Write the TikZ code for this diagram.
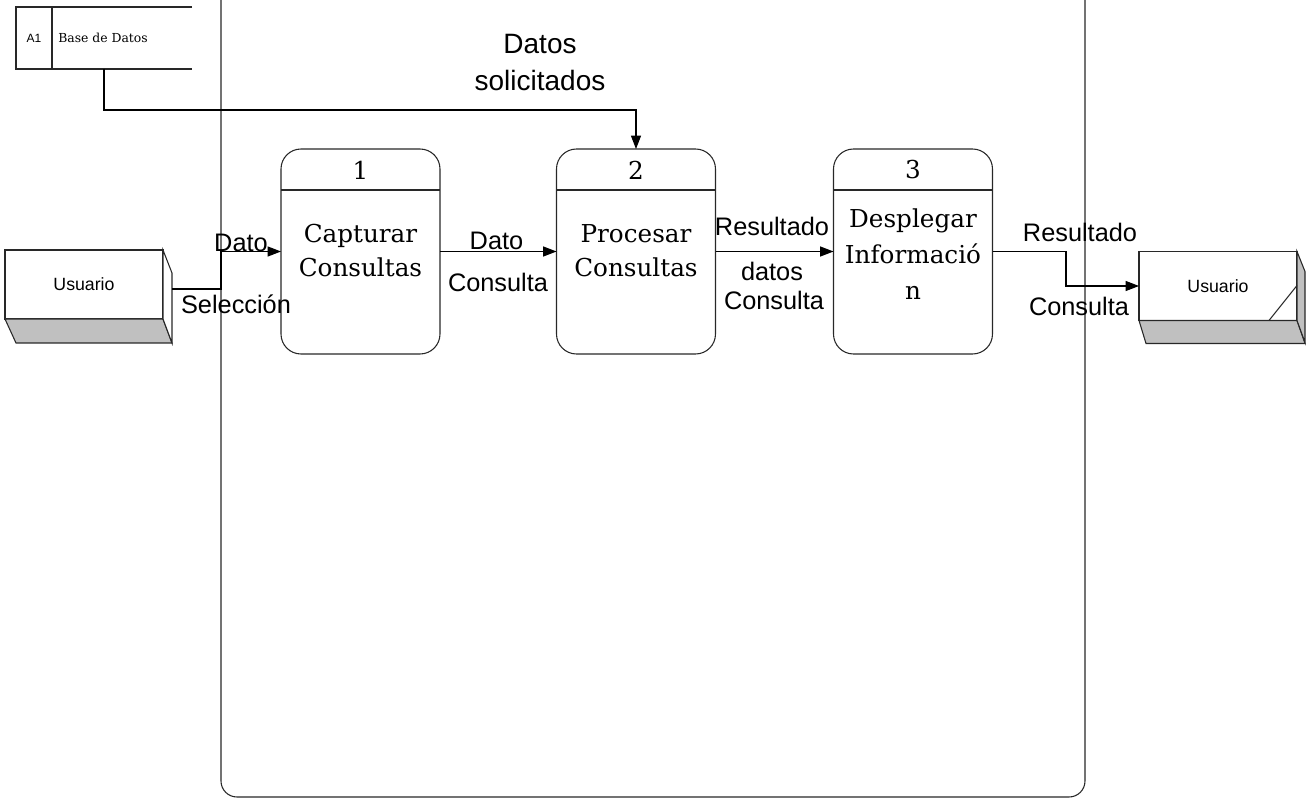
\documentclass[tikz,border=0pt]{standalone}
\usepackage{fontspec}
\setmainfont{DejaVu Serif}
\setsansfont{Liberation Sans}
\usepackage{xcolor}
\usepackage{tikz}
\usetikzlibrary{arrows.meta,calc}

\definecolor{shade}{RGB}{192,192,192}
\definecolor{edge}{RGB}{40,40,40}

\tikzset{
	proc/.style={draw=edge,line width=0.8pt,rounded corners=15pt,minimum width=119.25pt,minimum height=153.75pt,inner sep=0pt,outer sep=0pt},
	proctext/.style={align=center,font=\fontsize{18.5}{25.5}\selectfont,inner sep=0pt},
	entity/.style={draw=edge,line width=0.8pt,fill=white,minimum width=118.5pt,minimum height=51.75pt,inner sep=0pt,outer sep=0pt,font=\sffamily\fontsize{13.3}{16}\selectfont},
	flow/.style={draw=black,line width=0.8pt,-{Triangle[length=10pt,width=7.5pt]}},
	lbl/.style={font=\sffamily\fontsize{19}{23}\selectfont,inner sep=0pt}
}

\begin{document}
\begin{tikzpicture}[x=0.75pt,y=0.75pt,yscale=-1,xscale=1]
	\useasboundingbox (0,0) rectangle (1311,798);

	%Shape: Frame
	\draw [edge,line width=0.8pt,rounded corners=12pt] (221,-20) -- (221,797) -- (1085,797) -- (1085,-20) ;

	%Shape: Data store
	\node [inner sep=0pt,outer sep=0pt,minimum width=132pt,minimum height=46.5pt] (db) at (104,38) {};
	\draw [edge,line width=0.8pt] (db.north east) -- (db.north west) -- (db.south west) -- (db.south east) ;
	\draw [edge,line width=0.8pt] ($(db.north west)+(36,0)$) -- ($(db.south west)+(36,0)$) ;
	% Text Node
	\node [font=\sffamily\fontsize{9}{11}\selectfont,inner sep=0pt] (dbid) at (34,38) {A1};
	% Text Node
	\node [anchor=west,font=\fontsize{9.3}{11}\selectfont,inner sep=0pt] (dbname) at (58,38) {Base de Datos};

	%Shape: Processes
	\node [proc] (p1) at (360.5,251.5) {};
	\node [proc] (p2) at (636,251.5) {};
	\node [proc] (p3) at (913,251.5) {};
	\foreach \p in {p1,p2,p3}
		\draw [edge,line width=0.8pt] ($(\p.north west)!0.2!(\p.south west)$) -- ($(\p.north east)!0.2!(\p.south east)$) ;
	% Text Node
	\node [proctext] (n1) at (360.5,170) {1};
	\node [proctext] (n2) at (636,170) {2};
	\node [proctext] (n3) at (913,170) {3};
	\node [proctext] (t1) at (360.5,251) {Capturar\\Consultas};
	\node [proctext] (t2) at (636,251) {Procesar\\Consultas};
	\node [proctext,font=\fontsize{18.5}{27}\selectfont] (t3) at (913,254) {Desplegar\\Informació\\n};

	%Shape: External entity (left)
	\node [entity] (u1) at (84,284.5) {Usuario};
	\draw [edge,line width=0.8pt,fill=shade] (u1.south west) -- ++(11,24) -- ($(u1.south east)+(9,24)$) -- (u1.south east) -- cycle ;
	\draw [edge,line width=0.8pt,fill=white] (u1.north east) -- ++(9,23) -- ++(0,70) -- (u1.south east) -- cycle ;

	%Shape: External entity (right)
	\node [entity] (u2) at (1218,286) {Usuario};
	\draw [edge,line width=0.8pt,fill=shade] (u2.south west) -- ++(7,23) -- ($(u2.south east)+(8,23)$) -- (u2.south east) -- cycle ;
	\draw [edge,line width=0.8pt,fill=shade] (u2.north east) -- ++(8,20) -- ++(0,71) -- (u2.south east) -- cycle ;
	\draw [edge,line width=0.8pt] ($(u2.south east)+(-28,0)$) -- ($(u2.north east)+(0,34)$) ;

	%Straight Lines: flows
	\coordinate (dbturn) at (636,110);
	\draw [flow] (db.south) |- (dbturn) -- (p2.north) ;
	\coordinate (inturn) at (221,289);
	\draw [flow] ($(u1.east)+(9,4.5)$) -- (inturn) |- (p1.west) ;
	\draw [flow] (p1.east) -- (p2.west) ;
	\draw [flow] (p2.east) -- (p3.west) ;
	\coordinate (outturn) at (1066,251.5);
	\draw [flow] (p3.east) -- (outturn) |- (u2.west) ;

	% Text Node
	\node [lbl,align=center,font=\sffamily\fontsize{21}{27.75}\selectfont] (dsol) at (540,63) {Datos\\solicitados};
	% Text Node
	\node [lbl] (l1) at (241,243) {Dato};
	\node [lbl] (l2) at (236,304) {Selección};
	\node [lbl] (l3) at (496.5,241) {Dato};
	\node [lbl] (l4) at (498,282) {Consulta};
	\node [lbl] (l5) at (772,226) {Resultado};
	\node [lbl] (l6) at (772,271) {datos};
	\node [lbl] (l7) at (774,300) {Consulta};
	\node [lbl] (l8) at (1080,232) {Resultado};
	\node [lbl] (l9) at (1079,306) {Consulta};
\end{tikzpicture}
\end{document}
